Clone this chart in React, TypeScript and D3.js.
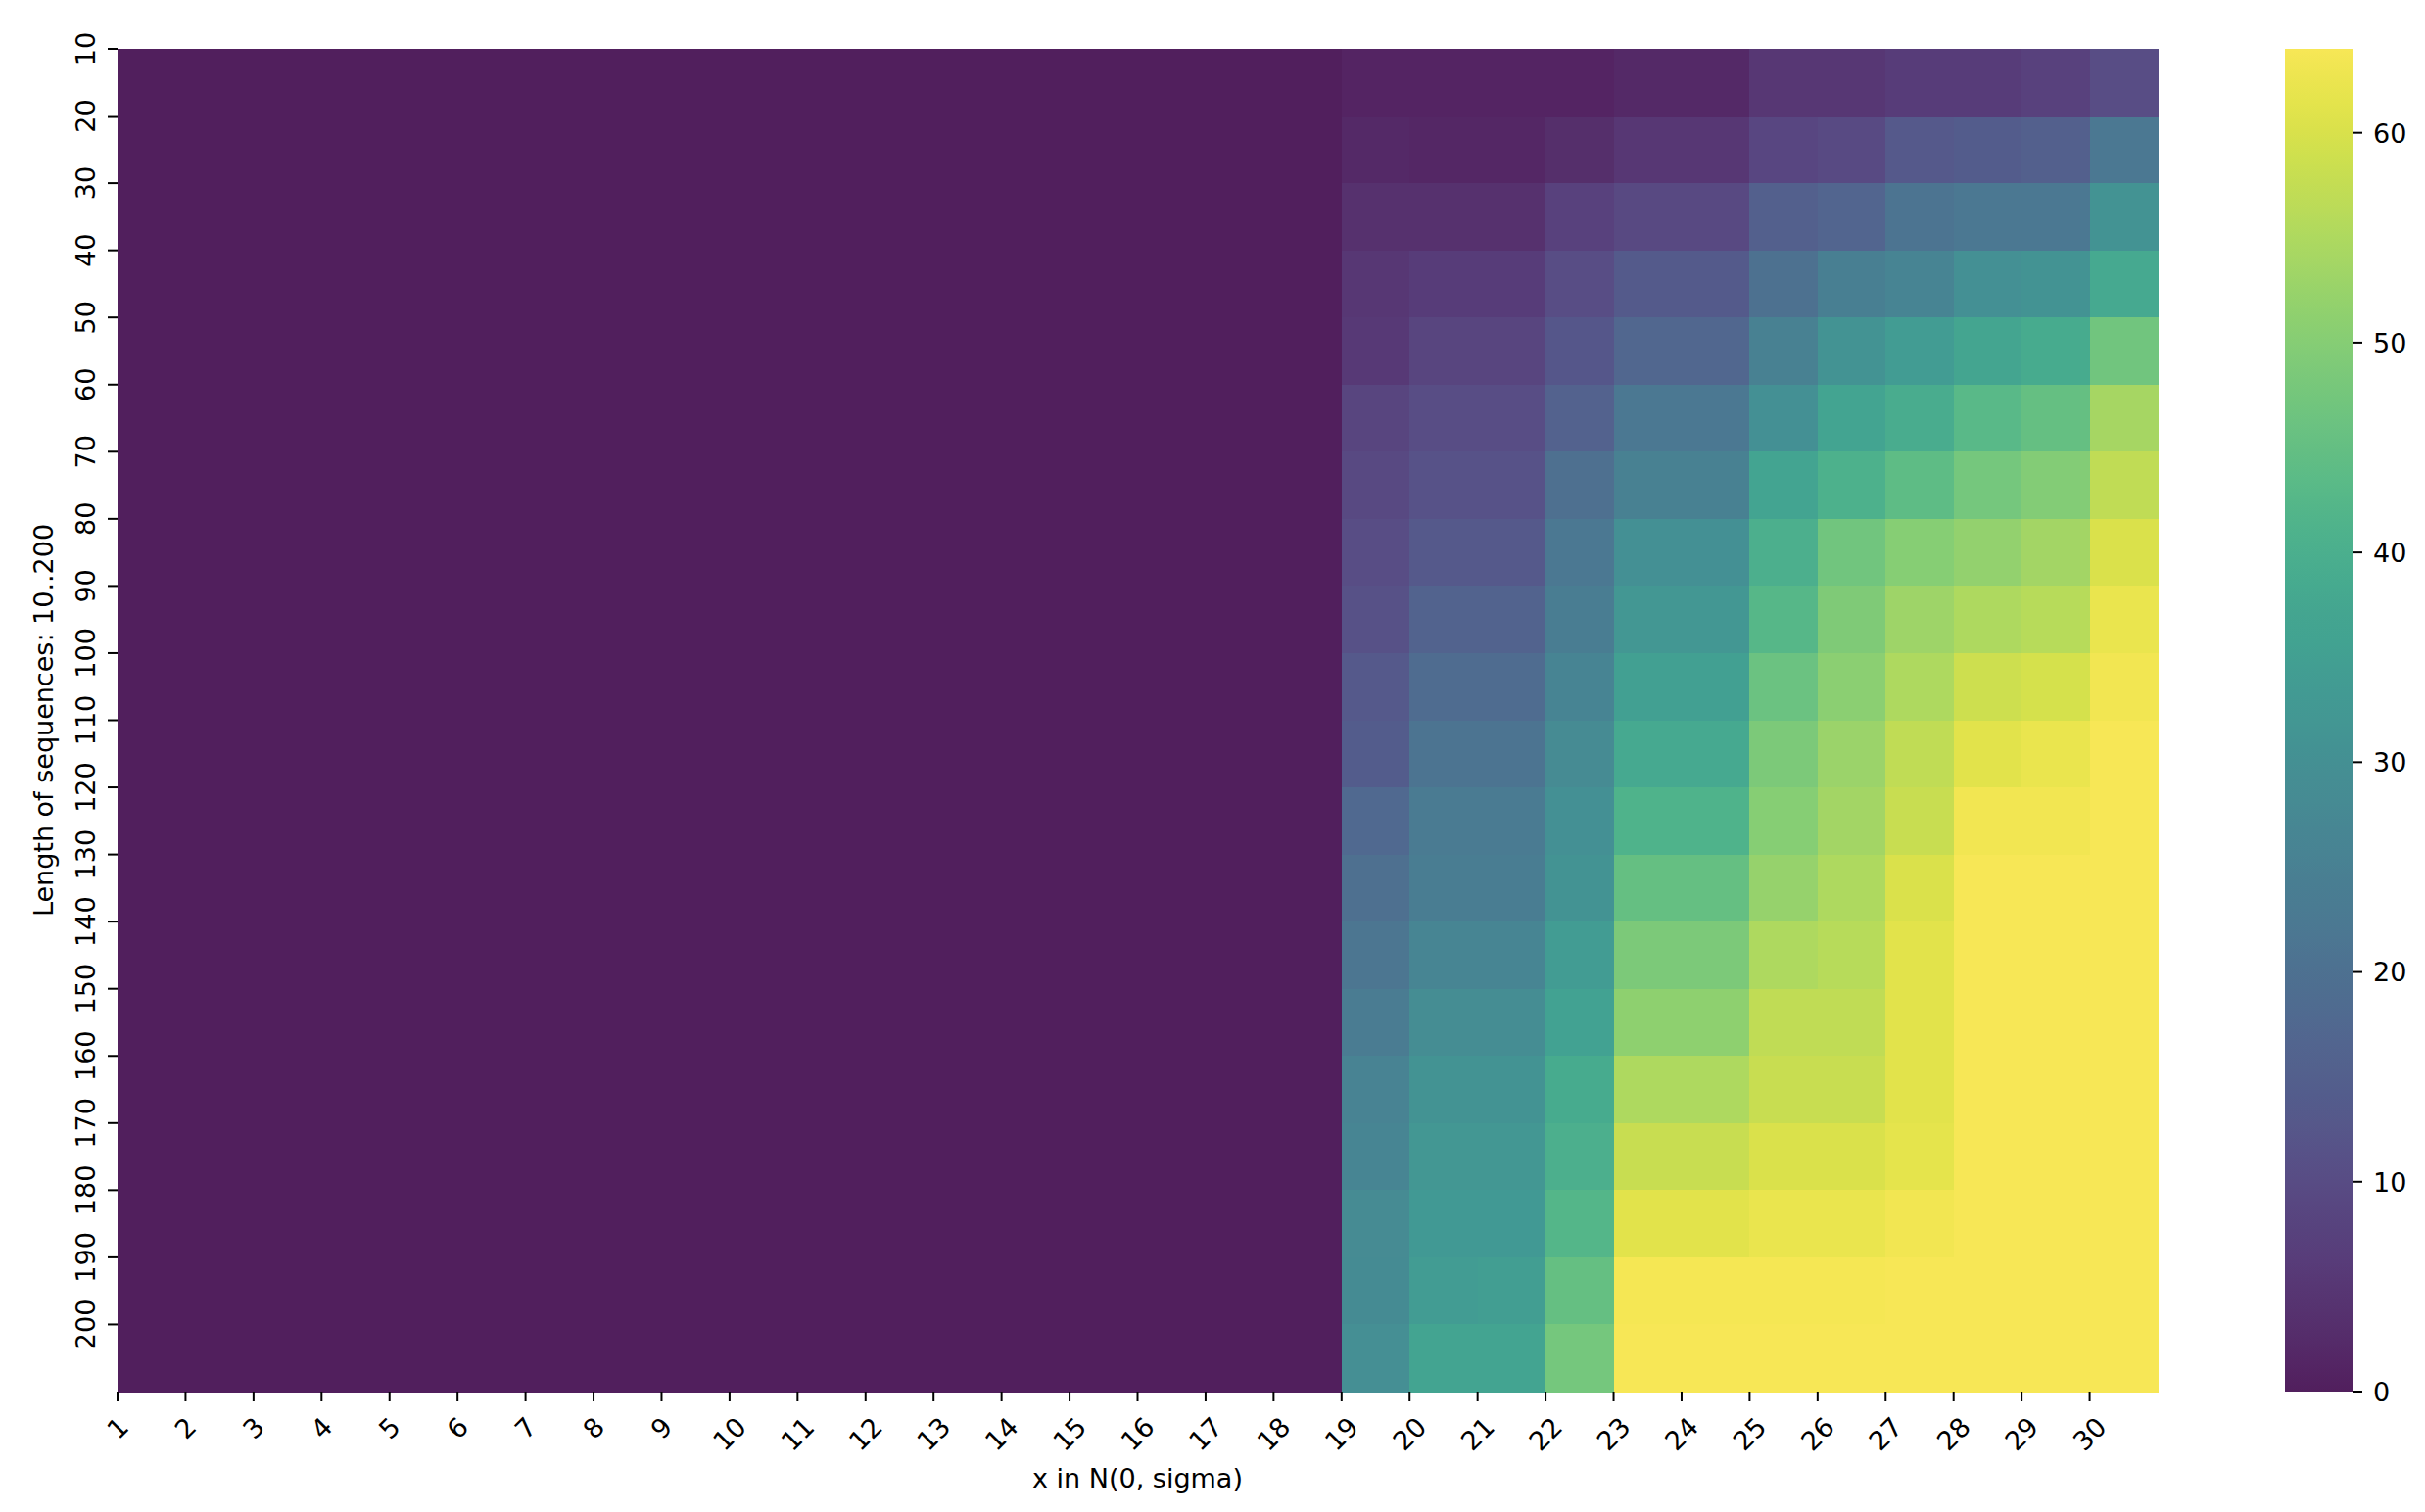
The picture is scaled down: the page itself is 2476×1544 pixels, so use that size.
import React, { useEffect } from "react";
import * as d3 from "d3";

// x categories: sigma 1..30
const sigmas = [1, 2, 3, 4, 5, 6, 7, 8, 9, 10, 11, 12, 13, 14, 15, 16, 17, 18, 19, 20, 21, 22, 23, 24, 25, 26, 27, 28, 29, 30];
// y categories: sequence length 10..200
const lengths = [10, 20, 30, 40, 50, 60, 70, 80, 90, 100, 110, 120, 130, 140, 150, 160, 170, 180, 190, 200];
// colorbar ticks
const cbarTicks = [0, 10, 20, 30, 40, 50, 60];
const vMin = 0;
const vMax = 64;

// one row per sequence length, one value per sigma
const values: number[][] = [
  [0, 0, 0, 0, 0, 0, 0, 0, 0, 0, 0, 0, 0, 0, 0, 0, 0, 0, 1, 1, 1, 1, 2, 2, 5, 5, 6, 6, 7, 10],
  [0, 0, 0, 0, 0, 0, 0, 0, 0, 0, 0, 0, 0, 0, 0, 0, 0, 0, 2, 1.5, 1.5, 3, 5, 5, 8.5, 9.5, 13, 14, 15, 22],
  [0, 0, 0, 0, 0, 0, 0, 0, 0, 0, 0, 0, 0, 0, 0, 0, 0, 0, 3.5, 3.5, 3.5, 7, 9, 9, 15, 16.5, 21, 22, 22, 31],
  [0, 0, 0, 0, 0, 0, 0, 0, 0, 0, 0, 0, 0, 0, 0, 0, 0, 0, 5, 6, 6, 10, 13.5, 13.5, 20, 24.5, 26, 30, 31, 38],
  [0, 0, 0, 0, 0, 0, 0, 0, 0, 0, 0, 0, 0, 0, 0, 0, 0, 0, 5.5, 8, 8, 12.5, 17, 17, 25, 31, 34, 37, 38.5, 47],
  [0, 0, 0, 0, 0, 0, 0, 0, 0, 0, 0, 0, 0, 0, 0, 0, 0, 0, 8, 10, 10, 15.5, 22, 22, 30, 36, 39, 43, 45, 54],
  [0, 0, 0, 0, 0, 0, 0, 0, 0, 0, 0, 0, 0, 0, 0, 0, 0, 0, 9, 11.5, 11.5, 19.5, 25, 25, 36, 40.5, 44, 47.5, 49.5, 57],
  [0, 0, 0, 0, 0, 0, 0, 0, 0, 0, 0, 0, 0, 0, 0, 0, 0, 0, 10, 13, 13, 22, 30, 30, 40, 47, 50, 51.5, 53.5, 60],
  [0, 0, 0, 0, 0, 0, 0, 0, 0, 0, 0, 0, 0, 0, 0, 0, 0, 0, 11, 16, 16, 24, 32, 32, 42.5, 49, 53, 55, 56, 62],
  [0, 0, 0, 0, 0, 0, 0, 0, 0, 0, 0, 0, 0, 0, 0, 0, 0, 0, 13, 18.5, 18.5, 26, 35, 35, 46, 50.5, 55, 58.5, 59.5, 63],
  [0, 0, 0, 0, 0, 0, 0, 0, 0, 0, 0, 0, 0, 0, 0, 0, 0, 0, 14, 21, 21, 28, 38, 38, 48.5, 52.5, 57, 61, 62, 64],
  [0, 0, 0, 0, 0, 0, 0, 0, 0, 0, 0, 0, 0, 0, 0, 0, 0, 0, 17.5, 23, 23, 30, 41, 41, 50, 53.5, 58, 63, 63, 64],
  [0, 0, 0, 0, 0, 0, 0, 0, 0, 0, 0, 0, 0, 0, 0, 0, 0, 0, 19.5, 24, 24, 31, 45, 45, 52, 55, 60, 64, 64, 64],
  [0, 0, 0, 0, 0, 0, 0, 0, 0, 0, 0, 0, 0, 0, 0, 0, 0, 0, 21.5, 26.5, 26.5, 34, 48.5, 48.5, 55, 56, 61, 64, 64, 64],
  [0, 0, 0, 0, 0, 0, 0, 0, 0, 0, 0, 0, 0, 0, 0, 0, 0, 0, 23.5, 29, 29, 35.5, 51, 51, 57, 57, 61, 64, 64, 64],
  [0, 0, 0, 0, 0, 0, 0, 0, 0, 0, 0, 0, 0, 0, 0, 0, 0, 0, 25.5, 31, 31, 38.5, 55, 55, 58, 58, 61, 64, 64, 64],
  [0, 0, 0, 0, 0, 0, 0, 0, 0, 0, 0, 0, 0, 0, 0, 0, 0, 0, 26.5, 32, 32, 40, 58, 58, 60, 60, 61.5, 64, 64, 64],
  [0, 0, 0, 0, 0, 0, 0, 0, 0, 0, 0, 0, 0, 0, 0, 0, 0, 0, 28, 33, 33, 42, 61, 61, 62, 62, 63, 64, 64, 64],
  [0, 0, 0, 0, 0, 0, 0, 0, 0, 0, 0, 0, 0, 0, 0, 0, 0, 0, 28.5, 34, 34.5, 45, 63.5, 63.5, 63.5, 63.5, 64, 64, 64, 64],
  [0, 0, 0, 0, 0, 0, 0, 0, 0, 0, 0, 0, 0, 0, 0, 0, 0, 0, 29.5, 36, 36, 47.5, 64, 64, 64, 64, 64, 64, 64, 64],
];

const xLabel = "x in N(0, sigma)";
const yLabel = "Length of sequences: 10..200";

const W = 2476;
const H = 1544;
const FONT = "DejaVu Sans";
const FS = 27;

const plot = { left: 120, right: 2203, top: 50, bottom: 1421 };
const cbar = { left: 2333, right: 2402 };
const ALPHA = 0.9;
const DESAT = 0.17;

export default function App() {
  useEffect(() => {
    document.body.style.margin = "0";
  }, []);

  const x = d3.scaleBand<number>().domain(sigmas).range([plot.left, plot.right]).padding(0);
  const y = d3.scaleBand<number>().domain(lengths).range([plot.top, plot.bottom]).padding(0);
  const norm = d3.scaleLinear().domain([vMin, vMax]).range([0, 1]).clamp(true);
  const color = (v: number) => {
    const c = d3.rgb(d3.interpolateRgb("#ffffff", d3.interpolateViridis(norm(v)))(ALPHA));
    const L = 0.299 * c.r + 0.587 * c.g + 0.114 * c.b;
    return d3
      .rgb(c.r + DESAT * (L - c.r), c.g + DESAT * (L - c.g), c.b + DESAT * (L - c.b))
      .formatHex();
  };
  const cy = d3.scaleLinear().domain([vMin, vMax]).range([plot.bottom, plot.top]);

  const stops = d3.range(0, 1.0001, 0.02);
  const capH = 0.729 * FS;
  const boxH = 1.164 * FS;

  return (
    <svg
      width={W}
      height={H}
      style={{ position: "absolute", left: 0, top: 0, display: "block", background: "#fff" }}
      fontFamily={FONT}
    >
      <defs>
        <linearGradient id="cbarGrad" x1="0" y1="1" x2="0" y2="0">
          {stops.map((t) => (
            <stop key={t} offset={t} stopColor={color(vMin + t * (vMax - vMin))} />
          ))}
        </linearGradient>
      </defs>
      <rect x={0} y={0} width={W} height={H} fill="#fff" />

      {/* heatmap cells */}
      <g shapeRendering="crispEdges">
        {lengths.map((l, ri) =>
          sigmas.map((s, ci) => (
            <rect
              key={`${ri}-${ci}`}
              x={x(s)!}
              y={y(l)!}
              width={x.bandwidth() + 0.6}
              height={y.bandwidth() + 0.6}
              fill={color(values[ri][ci])}
            />
          ))
        )}
      </g>

      {/* x ticks */}
      <g>
        {sigmas.map((s) => {
          const tx = x(s)!;
          const label = String(s);
          const w = label.length * 0.636 * FS;
          const cyy = 1441 + ((w + boxH) * Math.SQRT1_2) / 2;
          return (
            <g key={s}>
              <line x1={tx} x2={tx} y1={plot.bottom} y2={plot.bottom + 10} stroke="#000" strokeWidth={2} />
              <text
                x={tx}
                y={cyy}
                fontSize={FS}
                textAnchor="middle"
                dominantBaseline="central"
                transform={`rotate(-45, ${tx}, ${cyy})`}
              >
                {label}
              </text>
            </g>
          );
        })}
      </g>

      {/* y ticks */}
      <g>
        {lengths.map((l) => {
          const ty = y(l)!;
          return (
            <g key={l}>
              <line x1={plot.left - 10} x2={plot.left} y1={ty} y2={ty} stroke="#000" strokeWidth={2} />
              <text x={97} y={ty} fontSize={FS} textAnchor="middle" transform={`rotate(-90, 97, ${ty})`}>
                {l}
              </text>
            </g>
          );
        })}
      </g>

      {/* axis labels */}
      <text x={(plot.left + plot.right) / 2} y={1519} fontSize={FS} textAnchor="middle">
        {xLabel}
      </text>
      <text
        x={54}
        y={(plot.top + plot.bottom) / 2}
        fontSize={FS}
        textAnchor="middle"
        transform={`rotate(-90, 54, ${(plot.top + plot.bottom) / 2})`}
      >
        {yLabel}
      </text>

      {/* colorbar */}
      <rect
        x={cbar.left}
        y={plot.top}
        width={cbar.right - cbar.left}
        height={plot.bottom - plot.top}
        fill="url(#cbarGrad)"
      />
      {cbarTicks.map((t) => (
        <g key={t}>
          <line x1={cbar.right} x2={cbar.right + 10} y1={cy(t)} y2={cy(t)} stroke="#000" strokeWidth={2} />
          <text x={2423} y={cy(t) + capH / 2} fontSize={FS}>
            {t}
          </text>
        </g>
      ))}
    </svg>
  );
}
